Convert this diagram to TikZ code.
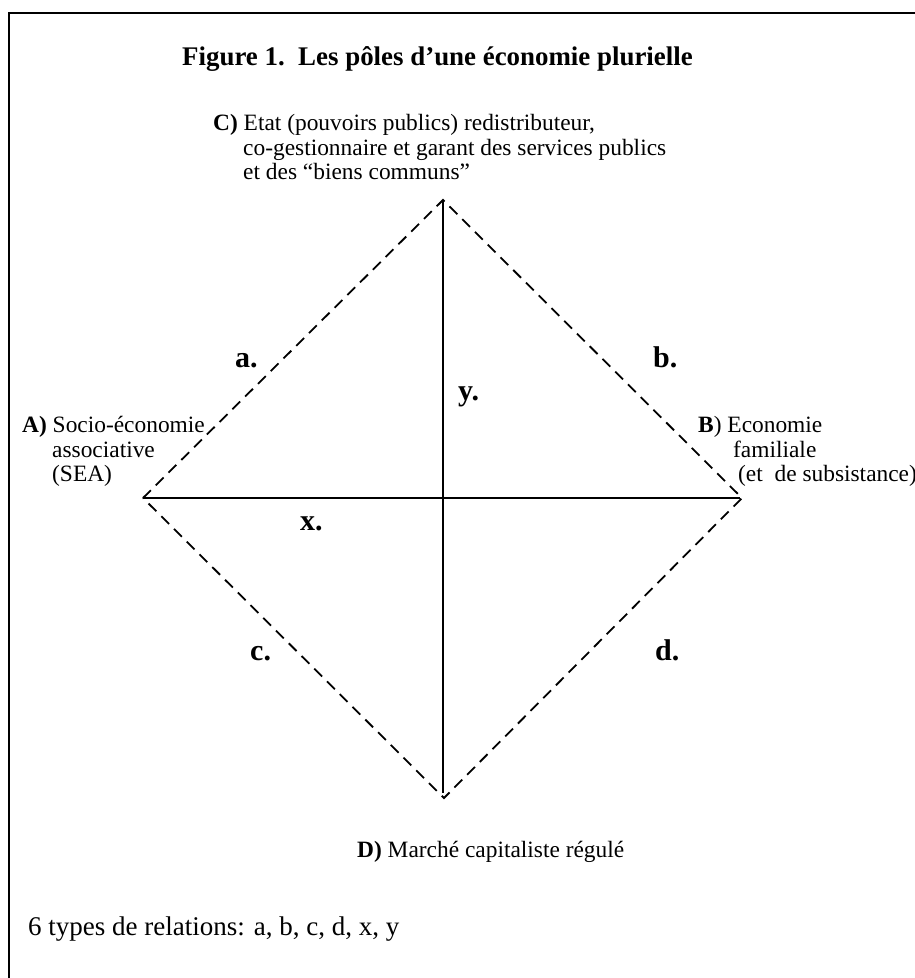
\documentclass[tikz,border=0pt]{standalone}
\usepackage{fontspec}
\setmainfont{Liberation Serif}
\begin{document}
\begin{tikzpicture}[x=1pt,y=-1pt,
  txt/.style={anchor=base west,inner sep=0pt,font=\fontsize{23.4}{24.5}\selectfont},
  rel/.style={anchor=base west,inner sep=0pt,font=\fontsize{30}{32}\selectfont\bfseries},
  dashline/.style={line width=1.8pt,dash pattern=on 11pt off 7pt},
  solidline/.style={line width=1.3pt}]
\useasboundingbox (0,0) rectangle (915,978);
\clip (0,0) rectangle (915,978);
\draw[line width=2pt] (9,13) rectangle (940,1000);
\coordinate (C) at (443,200);
\coordinate (A) at (143,498);
\coordinate (B) at (742,498);
\coordinate (D) at (444,798);
\coordinate (Dv) at (443,793);
\coordinate (Bh) at (740,498);
\draw[dashline] (A) -- (C) -- (B) -- (D) -- cycle;
\draw[solidline] (C) -- (Dv);
\draw[line width=2pt] (A) -- (Bh);
\node[anchor=base west,inner sep=0pt,font=\fontsize{26.9}{28}\selectfont\bfseries] (title) at (182,65) {Figure 1.\ \ Les pôles d’une économie plurielle};
\node[txt] (c1) at (213,130) {\textbf{C)} Etat (pouvoirs publics) redistributeur,};
\node[txt] (c2) at (243,155) {co-gestionnaire et garant des services publics};
\node[txt] (c3) at (243,179) {et des “biens communs”};
\node[txt] (a1) at (22,432) {\textbf{A)} Socio-économie};
\node[txt] (a2) at (52,457) {associative};
\node[txt] (a3) at (52,481) {(SEA)};
\node[txt] (b1) at (698,432) {\textbf{B}) Economie};
\node[txt] (b2) at (733,457) {familiale};
\node[txt] (b3) at (738,481) {(et\ \ de subsistance)};
\node[txt] (d1) at (357,857) {\textbf{D)} Marché capitaliste régulé};
\node[anchor=base west,inner sep=0pt,font=\fontsize{27}{29}\selectfont] (legend) at (28,935) {6 types de relations: a, b, c, d, x, y};
\node[rel] (la) at (235,367) {a.};
\node[rel] (lb) at (653,367) {b.};
\node[rel] (ly) at (458,400) {y.};
\node[rel] (lx) at (300,530) {x.};
\node[rel] (lc) at (250,660) {c.};
\node[rel] (ld) at (655,660) {d.};
\end{tikzpicture}
\end{document}
